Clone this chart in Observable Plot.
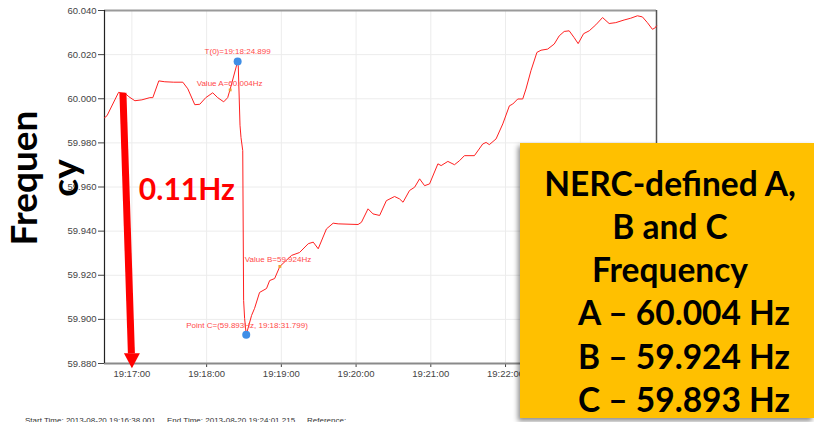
<!DOCTYPE html>
<html><head><meta charset="utf-8">
<script src="https://cdn.jsdelivr.net/npm/d3@7"></script>
<script src="https://cdn.jsdelivr.net/npm/@observablehq/plot@0.6"></script>
<style>
html,body{margin:0;padding:0;background:#fff;}
#wrap{position:relative;width:814px;height:422px;overflow:hidden;}
#chart{position:absolute;left:0;top:0;}
#box{position:absolute;left:520px;top:143px;width:294px;height:275px;background:#FFC000;
  box-shadow:-2px 3px 5px rgba(0,0,0,0.45);font-family:Lato,"Open Sans",sans-serif;font-weight:700;
  font-size:33.5px;color:#000;text-align:center;padding-top:18.5px;box-sizing:border-box;}
#box div{line-height:43.3px;height:43.3px;white-space:nowrap;}
#box div.h{padding-left:6px;}
#box div.v{padding-left:34px;}
</style></head>
<body><div id="wrap"><div id="chart"></div><div id="box"></div></div>
<script>
// ---- data ----
const day = [2013, 7, 20];
const startTime = "19:16:38.001";
const endTime = "19:24:01.215";
const lineTimes = ["19:16:38.0","19:16:40.0","19:16:49.3","19:16:54.4","19:16:57.6","19:17:02.4","19:17:08.0","19:17:14.4","19:17:16.8","19:17:21.6","19:17:26.4","19:17:33.6","19:17:40.9","19:17:44.9","19:17:50.5","19:17:54.5","19:17:59.3","19:18:04.9","19:18:08.9","19:18:13.7","19:18:16.9","19:18:18.9","19:18:24.9","19:18:25.4","19:18:26.8","19:18:27.6","19:18:29.0","19:18:29.7","19:18:30.5","19:18:31.8","19:18:36.1","19:18:38.5","19:18:42.5","19:18:48.1","19:18:50.6","19:18:54.6","19:18:58.8","19:19:08.2","19:19:14.6","19:19:21.6","19:19:25.6","19:19:29.6","19:19:36.2","19:19:41.6","19:19:45.6","19:20:01.6","19:20:04.3","19:20:09.6","19:20:13.6","19:20:18.9","19:20:24.3","19:20:30.9","19:20:34.9","19:20:37.7","19:20:42.9","19:20:47.0","19:20:51.0","19:20:55.0","19:20:59.0","19:21:05.7","19:21:08.3","19:21:13.7","19:21:19.0","19:21:23.0","19:21:27.0","19:21:35.0","19:21:41.7","19:21:44.4","19:21:47.0","19:21:52.4","19:21:57.8","19:22:03.1","19:22:05.8","19:22:09.8","19:22:13.8","19:22:16.4","19:22:20.4","19:22:25.2","19:22:28.5","19:22:33.8","19:22:39.1","19:22:43.1","19:22:47.1","19:22:51.1","19:22:55.1","19:22:58.3","19:23:02.7","19:23:07.2","19:23:12.5","19:23:17.9","19:23:23.2","19:23:28.5","19:23:35.2","19:23:40.5","19:23:45.9","19:23:49.9","19:23:53.9","19:23:57.9","19:23:59.8","19:24:01.2"];
const lineFreqs = [59.9914,59.9923,60.0029,60.0025,60.0009,59.9991,59.9995,60.0005,60.0005,60.0081,60.0077,60.0075,60.0075,60.0045,59.9973,59.9975,60.0005,60.0027,60.0005,59.9986,60.0005,60.0043,60.0169,60.0150,59.9880,59.9824,59.9765,59.9086,59.9004,59.8930,59.9018,59.9050,59.9122,59.9140,59.9176,59.9185,59.9240,59.9290,59.9303,59.9343,59.9350,59.9320,59.9410,59.9436,59.9433,59.9430,59.9440,59.9501,59.9478,59.9471,59.9538,59.9557,59.9546,59.9531,59.9584,59.9599,59.9637,59.9606,59.9614,59.9705,59.9697,59.9716,59.9701,59.9719,59.9742,59.9742,59.9795,59.9802,59.9792,59.9818,59.9886,59.9968,59.9976,59.9999,59.9999,60.0044,60.0127,60.0210,60.0220,60.0225,60.0248,60.0285,60.0305,60.0308,60.0277,60.0250,60.0295,60.0308,60.0335,60.0368,60.0341,60.0345,60.0357,60.0365,60.0376,60.0371,60.0345,60.0315,60.0320,60.0330];
const yDomain = [59.88, 60.04];
const yTicks = [59.88, 59.90, 59.92, 59.94, 59.96, 59.98, 60.00, 60.02, 60.04];
const xTicks = ["19:17:00","19:18:00","19:19:00","19:20:00","19:21:00","19:22:00"];
const xGrid = ["19:17:00","19:18:00","19:19:00","19:20:00","19:21:00","19:22:00","19:23:00"];
const blueTimes = ["19:18:24.899", "19:18:31.799"];
const blueFreqs = [60.0169, 59.893];
const blueLabels = ["T(0)=19:18:24.899", "Point C=(59.893Hz, 19:18:31.799)"];
const valueTimes = ["19:18:18.9", "19:18:58.8"];
const valueFreqs = [60.004, 59.924];
const valueLabels = ["Value A=60.004Hz", "Value B=59.924Hz"];
const arrowShaft = {t1: "19:16:52.8", f1: 60.0027, t2: "19:16:59.6", f2: 59.8846};
const arrowHeadTimes = ["19:16:53.6", "19:17:00.0", "19:17:06.4"];
const arrowHeadFreqs = [59.8846, 59.8778, 59.8846];
const dropLabel = {t: "19:17:05.6", f: 59.9586, text: "0.11Hz"};
const yTitle = ["Frequen", "cy"];
const footer = [["Start Time: 2013-08-20 19:16:38.001", 25], ["End Time: 2013-08-20 19:24:01.215", 167], ["Reference:", 307]];
const boxLines = ["NERC-defined A,", "B and C", "Frequency", "A \u2013 60.004 Hz", "B \u2013 59.924 Hz", "C \u2013 59.893 Hz"];

// ---- helpers ----
function toDate(s) {
  const [h, m, sec] = s.split(":").map(Number);
  return new Date(Date.UTC(day[0], day[1], day[2], h, m, 0) + sec * 1000);
}
const series = lineTimes.map((t, i) => ({t: toDate(t), f: lineFreqs[i]}));
const blue = blueTimes.map((t, i) => ({t: toDate(t), f: blueFreqs[i], label: blueLabels[i]}));
const vals = valueTimes.map((t, i) => ({t: toDate(t), f: valueFreqs[i], label: valueLabels[i]}));
const xTickDates = xTicks.map(toDate);
const xGridDates = xGrid.map(toDate);
const xDomain = [toDate(startTime), toDate(endTime)];
const head = arrowHeadTimes.map((t, i) => ({t: toDate(t), f: arrowHeadFreqs[i]}));
const red = "#ff2020", annot = "#ff4a4a";

const chart = Plot.plot({
  width: 814, height: 422,
  marginLeft: 104, marginRight: 158, marginTop: 10, marginBottom: 59,
  style: {fontFamily: "'Liberation Sans', Arial, sans-serif", fontSize: "9.5px", color: "#444", background: "transparent", overflow: "visible"},
  x: {type: "utc", domain: xDomain, ticks: xTickDates, tickFormat: d3.utcFormat("%H:%M:%S"), label: null, tickSize: 4, tickPadding: 3},
  y: {domain: yDomain, ticks: yTicks, tickFormat: d3.format(".3f"), label: null, tickSize: 6, tickPadding: 2},
  marks: [
    Plot.ruleX(xGridDates, {stroke: "#ececec", strokeWidth: 1}),
    Plot.ruleY(yTicks, {stroke: "#ececec", strokeWidth: 1}),
    Plot.ruleY([yDomain[1]], {stroke: "#9a9a9a", strokeWidth: 2}),
    Plot.ruleY([yDomain[0]], {stroke: "#8a8a8a", strokeWidth: 2}),
    Plot.ruleX([xDomain[0]], {stroke: "#222", strokeWidth: 1.2}),
    Plot.ruleX([xDomain[1]], {stroke: "#555", strokeWidth: 1.5}),
    Plot.line(series, {x: "t", y: "f", stroke: red, strokeWidth: 1}),
    Plot.dot(vals, {x: "t", y: "f", symbol: "square", r: 1.6, fill: "#f0a030", stroke: "none"}),
    Plot.dot(blue, {x: "t", y: "f", r: 4, fill: "#3f8ee6", stroke: "none"}),
    Plot.text([blue[0]], {x: "t", y: "f", text: "label", fill: annot, fontSize: 8, dy: -10}),
    Plot.text([blue[1]], {x: "t", y: "f", text: "label", fill: annot, fontSize: 8, textAnchor: "start", dx: -60, dy: -9.5}),
    Plot.text([vals[0]], {x: "t", y: "f", text: "label", fill: annot, fontSize: 8, textAnchor: "start", dx: -33.5, dy: -6}),
    Plot.text([vals[1]], {x: "t", y: "f", text: "label", fill: annot, fontSize: 8, textAnchor: "start", dx: -35, dy: -6.5}),
    Plot.link([arrowShaft], {x1: d => toDate(d.t1), y1: "f1", x2: d => toDate(d.t2), y2: "f2", stroke: "#ff0000", strokeWidth: 7}),
    Plot.line(head, {x: "t", y: "f", fill: "#ff0000", stroke: "none"}),
    Plot.text([dropLabel], {x: d => toDate(d.t), y: "f", text: "text", textAnchor: "start", fill: "#ff0000",
      fontSize: 30, fontWeight: 700, fontFamily: "Lato, 'Open Sans', sans-serif"})
  ]
});
document.getElementById("chart").appendChild(chart);

const svg = d3.select(chart);
// rotated axis title
svg.append("text").attr("transform", "translate(37,178) rotate(-90)").attr("text-anchor", "middle")
  .attr("font-family", "Lato, 'Open Sans', sans-serif").attr("font-weight", 700).attr("font-size", 37).attr("fill", "#000")
  .text(yTitle[0]);
svg.append("text").attr("transform", "translate(78,178) rotate(-90)").attr("text-anchor", "middle")
  .attr("font-family", "Lato, 'Open Sans', sans-serif").attr("font-weight", 700).attr("font-size", 37).attr("fill", "#000")
  .text(yTitle[1]);
// footer
footer.forEach(([t, x]) => {
  svg.append("text").attr("x", x).attr("y", 423).attr("text-anchor", "start")
    .attr("font-family", "'Liberation Sans', Arial, sans-serif")
    .attr("font-size", 8).attr("fill", "#333").text(t);
});
// orange box
const box = d3.select("#box");
boxLines.forEach((t, i) => box.append("div").attr("class", i >= 3 ? "v" : "h").text(t));
</script>
</body></html>
